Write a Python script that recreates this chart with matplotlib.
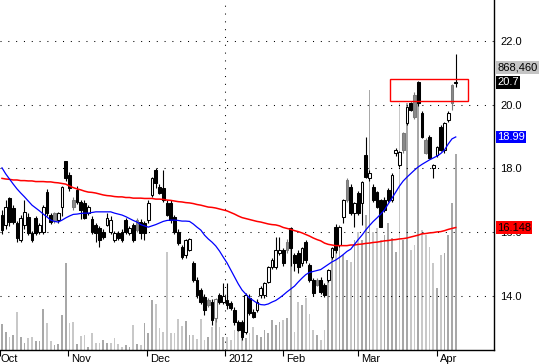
import matplotlib
matplotlib.use("Agg")
import matplotlib.pyplot as plt
import numpy as np
from matplotlib.patches import Rectangle
from matplotlib.transforms import blended_transform_factory, ScaledTranslation

plt.rcParams['font.family'] = ['Liberation Sans', 'DejaVu Sans']

# ---------------- data ----------------
opens = [16.54, 16.23, 17.07, 16.76, 16.29, 15.76, 16.23, 16.48, 15.98, 16.45,
         16.01, 16.01, 17.26, 16.54, 16.60, 16.38, 16.79, 18.24, 17.80, 17.01,
         17.33, 16.95, 16.92, 16.60, 16.42, 16.23, 16.13, 16.00, 16.23, 16.01,
         15.76, 15.98, 16.01, 16.38, 15.98, 16.23, 16.38, 16.32, 16.29, 16.38,
         17.17, 17.95, 17.42, 17.39, 16.92, 16.92, 16.48, 16.01, 15.54, 15.28,
         15.44, 15.04, 14.50, 14.19, 13.97, 13.87, 13.81, 13.30, 14.03, 13.81,
         13.87, 13.78, 13.56, 13.18, 13.18, 12.87, 13.94, 13.50, 13.56, 14.03,
         14.03, 14.44, 14.91, 14.91, 15.35, 15.44, 15.69, 16.13, 15.29, 15.35,
         15.04, 15.69, 14.97, 14.50, 14.50, 14.50, 14.35, 14.50, 15.22, 16.16,
         15.60, 16.48, 17.64, 17.42, 16.60, 17.23, 16.92, 18.42, 17.70, 17.42,
         17.26, 17.01, 17.01, 17.33, 17.01, 18.49, 18.11, 19.11, 19.43, 20.05,
         20.30, 20.71, 19.74, 18.89, 18.99, 18.00, 18.42, 19.30, 18.58, 19.52,
         20.62, 20.68]
highs = [16.70, 17.00, 17.10, 16.85, 16.35, 16.55, 17.01, 16.60, 16.05, 16.50,
         16.30, 16.85, 17.35, 16.60, 16.65, 16.65, 17.45, 18.25, 17.90, 17.10,
         17.45, 17.00, 17.00, 16.85, 16.50, 16.30, 16.20, 16.10, 16.60, 16.50,
         16.05, 16.05, 16.10, 16.45, 16.20, 16.30, 16.45, 16.40, 16.35, 17.00,
         17.72, 18.00, 17.50, 17.95, 17.00, 17.00, 16.55, 16.10, 15.60, 15.80,
         15.82, 15.10, 14.60, 14.25, 14.05, 13.95, 13.90, 13.95, 14.10, 14.40,
         14.40, 13.85, 13.65, 13.25, 13.25, 14.10, 14.05, 13.60, 13.90, 14.30,
         14.45, 14.95, 15.20, 15.86, 15.86, 15.50, 15.80, 16.15, 15.35, 15.45,
         15.55, 15.75, 15.05, 14.55, 14.55, 14.60, 14.40, 14.85, 15.55, 16.25,
         16.20, 17.05, 17.70, 17.50, 16.95, 17.30, 17.60, 18.99, 17.95, 17.50,
         17.30, 17.05, 17.10, 17.40, 17.85, 18.65, 18.55, 19.15, 19.95, 20.10,
         20.40, 20.75, 19.80, 18.95, 19.05, 18.15, 18.70, 19.35, 19.45, 19.80,
         20.65, 21.58]
lows = [15.95, 16.10, 16.20, 16.25, 15.69, 15.70, 16.10, 15.90, 15.70, 15.90,
        15.95, 15.95, 16.50, 16.25, 16.30, 16.30, 16.50, 17.60, 17.30, 16.70,
        16.90, 16.40, 16.40, 16.55, 15.95, 15.70, 15.54, 15.80, 16.20, 15.95,
        15.70, 15.75, 15.70, 15.95, 15.90, 15.70, 16.00, 15.80, 15.76, 16.30,
        17.10, 17.40, 17.20, 16.95, 16.50, 16.30, 15.95, 15.60, 15.15, 15.20,
        15.40, 14.45, 13.95, 13.75, 13.40, 13.65, 13.10, 13.20, 13.75, 13.75,
        13.60, 13.55, 13.10, 12.90, 12.62, 12.80, 13.40, 13.30, 13.50, 13.95,
        13.95, 14.40, 14.85, 14.85, 15.30, 14.95, 15.35, 14.95, 14.80, 14.72,
        14.95, 15.05, 14.45, 14.00, 14.30, 14.05, 13.97, 14.45, 15.15, 15.35,
        15.55, 16.30, 16.95, 16.55, 16.17, 16.55, 16.23, 17.70, 17.60, 16.95,
        16.75, 16.15, 16.65, 16.95, 16.95, 18.40, 18.05, 18.50, 19.35, 19.80,
        19.55, 19.95, 18.95, 18.45, 18.30, 17.70, 18.35, 18.55, 18.50, 19.45,
        19.84, 20.55]
closes = [16.07, 16.79, 16.32, 16.32, 15.82, 16.45, 16.64, 15.98, 15.76, 15.98,
          16.23, 16.79, 16.60, 16.32, 16.35, 16.60, 17.42, 17.70, 17.39, 16.79,
          16.95, 16.70, 16.45, 16.79, 16.01, 15.98, 15.76, 15.85, 16.45, 16.38,
          15.98, 15.82, 15.76, 16.01, 16.13, 15.76, 16.07, 15.98, 15.98, 16.92,
          17.70, 17.55, 17.23, 17.01, 16.54, 16.38, 16.01, 15.66, 15.22, 15.76,
          15.79, 14.50, 14.03, 13.81, 13.56, 13.72, 13.25, 13.90, 13.81, 14.00,
          13.72, 13.62, 13.18, 12.93, 12.71, 14.03, 13.47, 13.34, 13.81, 14.25,
          14.41, 14.91, 15.13, 15.44, 15.44, 15.03, 15.44, 15.50, 15.04, 14.91,
          15.50, 15.13, 14.50, 14.09, 14.35, 14.13, 14.03, 14.82, 15.50, 15.44,
          16.16, 17.01, 17.01, 16.60, 16.92, 16.60, 17.58, 17.73, 17.86, 17.01,
          16.79, 16.17, 16.70, 17.01, 17.80, 18.58, 18.52, 18.58, 19.93, 19.84,
          19.60, 20.05, 18.99, 18.49, 18.33, 18.11, 18.67, 18.58, 19.43, 19.74,
          20.05, 20.70]
volumes = [115000, 80000, 58000, 66000, 168000, 58000, 31000, 53000, 58000, 40000,
           40000, 182000, 120000, 40000, 22000, 27000, 155000, 385000, 120000, 124000,
           27000, 62000, 66000, 13000, 75000, 31000, 31000, 44000, 31000, 31000,
           53000, 27000, 13000, 22000, 13000, 111000, 27000, 22000, 120000, 75000,
           222000, 204000, 97000, 80000, 434000, 75000, 75000, 137000, 106000, 128000,
           66000, 66000, 49000, 137000, 44000, 58000, 102000, 222000, 102000, 58000,
           58000, 44000, 89000, 102000, 80000, 53000, 75000, 102000, 66000, 58000,
           89000, 75000, 133000, 111000, 124000, 133000, 142000, 532000, 80000, 213000,
           199000, 230000, 160000, 89000, 66000, 44000, 89000, 354000, 421000, 443000,
           554000, 421000, 399000, 390000, 487000, 523000, 487000, 598000, 1152000, 523000,
           541000, 487000, 510000, 563000, 496000, 434000, 1094000, 487000, 1094000, 443000,
           465000, 1108000, 532000, 510000, 456000, 385000, 275000, 421000, 430000, 510000,
           651000, 868460]
ma_fast = [18.02, 17.83, 17.67, 17.51, 17.36, 17.23, 17.11, 16.98, 16.85, 16.76,
           16.67, 16.57, 16.48, 16.38, 16.34, 16.32, 16.38, 16.45, 16.51, 16.56,
           16.57, 16.59, 16.60, 16.60, 16.62, 16.64, 16.64, 16.64, 16.64, 16.64,
           16.60, 16.57, 16.54, 16.49, 16.43, 16.37, 16.32, 16.24, 16.20, 16.16,
           16.20, 16.24, 16.29, 16.34, 16.37, 16.38, 16.38, 16.37, 16.35, 16.35,
           16.34, 16.26, 16.16, 16.07, 15.91, 15.79, 15.69, 15.57, 15.41, 15.22,
           15.04, 14.82, 14.60, 14.38, 14.19, 14.06, 13.94, 13.86, 13.78, 13.73,
           13.72, 13.75, 13.81, 13.86, 13.94, 14.03, 14.13, 14.22, 14.31, 14.44,
           14.56, 14.67, 14.74, 14.77, 14.80, 14.83, 14.91, 14.99, 15.07, 15.13,
           15.21, 15.30, 15.40, 15.47, 15.62, 15.77, 15.91, 16.07, 16.21, 16.34,
           16.45, 16.57, 16.70, 16.89, 17.07, 17.26, 17.45, 17.61, 17.73, 17.84,
           17.95, 18.05, 18.13, 18.20, 18.27, 18.33, 18.39, 18.47, 18.58, 18.77,
           18.93, 18.99]
ma_slow = [17.69, 17.67, 17.66, 17.64, 17.64, 17.62, 17.62, 17.61, 17.61, 17.59,
           17.59, 17.59, 17.58, 17.58, 17.56, 17.55, 17.53, 17.51, 17.45, 17.40,
           17.36, 17.33, 17.29, 17.26, 17.25, 17.23, 17.20, 17.17, 17.15, 17.14,
           17.12, 17.11, 17.11, 17.09, 17.09, 17.07, 17.07, 17.07, 17.06, 17.06,
           17.06, 17.04, 17.04, 17.03, 17.01, 17.00, 16.98, 16.96, 16.95, 16.93,
           16.92, 16.90, 16.87, 16.85, 16.82, 16.79, 16.78, 16.76, 16.73, 16.70,
           16.67, 16.62, 16.57, 16.51, 16.46, 16.43, 16.40, 16.37, 16.34, 16.32,
           16.29, 16.26, 16.24, 16.23, 16.20, 16.15, 16.12, 16.09, 16.05, 16.02,
           15.98, 15.93, 15.88, 15.82, 15.77, 15.73, 15.66, 15.62, 15.60, 15.58,
           15.58, 15.58, 15.58, 15.60, 15.60, 15.62, 15.63, 15.65, 15.66, 15.68,
           15.69, 15.71, 15.73, 15.74, 15.76, 15.77, 15.79, 15.80, 15.82, 15.85,
           15.88, 15.91, 15.95, 15.96, 15.98, 15.99, 16.01, 16.02, 16.05, 16.09,
           16.12, 16.148]
gray_bars = [14, 19, 36, 55, 57, 76, 84, 92, 107, 110, 113, 120]

month_labels = ['Oct', 'Nov', 'Dec', '2012', 'Feb', 'Mar', 'Apr']
month_pos = [-0.53, 17.6, 38.7, 59.6, 74.9, 94.9, 116.0]
year_boundary = 59.6
price_ticks = [14.0, 16.0, 18.0, 20.0, 22.0]
box_x = (103.5, 124.3)
box_y = (20.12, 20.81)
vol_tag_price = 21.17

# ---------------- figure ----------------
W, H, DPI = 550, 364, 100
fig = plt.figure(figsize=(W / DPI, H / DPI), dpi=DPI)
rect = [0, 14 / H, 494 / W, 350 / H]
axv = fig.add_axes(rect)
ax = fig.add_axes(rect, sharex=axv)
ax.patch.set_visible(False)

n = len(closes)
x = np.arange(n)
o = np.array(opens); c = np.array(closes)
hi = np.array(highs); lo = np.array(lows)

# volume
vol_cols = ['#a8a8a8' if (i == 0 or c[i] >= c[i - 1]) else '#c8c8c8' for i in range(n)]
axv.bar(x, volumes, width=0.42, color=vol_cols, linewidth=0)
axv.set_ylim(0, 1.55e6)
axv.axis('off')

# candles
edge = ['#7a7a7a' if i in gray_bars else 'black' for i in range(n)]
face = []
for i in range(n):
    if c[i] >= o[i]:
        face.append('white')
    else:
        face.append('#8a8a8a' if i in gray_bars else 'black')
ax.vlines(x, lo, hi, colors=edge, linewidth=0.8, zorder=3)
body_h = np.maximum(np.abs(c - o), 0.03)
ax.bar(x, body_h, bottom=np.minimum(o, c), width=0.72, color=face,
       edgecolor=edge, linewidth=0.75, zorder=4)

# moving averages
ax.plot(x, ma_slow, color='#ff0000', linewidth=1.1, zorder=5)
ax.plot(x, ma_fast, color='#0000ff', linewidth=0.9, zorder=5)

# red highlight box
ax.add_patch(Rectangle((box_x[0], box_y[0]), box_x[1] - box_x[0], box_y[1] - box_y[0],
                       fill=False, edgecolor='#ff0000', linewidth=1.0, zorder=6))

# axes limits
ax.set_xlim(-0.533, 131.2)
ax.set_ylim(12.306, 23.286)

# grid
dots = (0, (1, 6.5))
ax.set_yticks(price_ticks)
ax.yaxis.set_major_formatter('{x:.1f}')
ax.grid(axis='y', color='black', linewidth=0.75, linestyle=dots, zorder=1)
ax.axvline(year_boundary, color='black', linewidth=0.75, linestyle=dots, zorder=1)

# spines
for s in ['left', 'top']:
    ax.spines[s].set_visible(False)
ax.spines['right'].set_linewidth(1.0)
ax.spines['bottom'].set_linewidth(1.0)

ax.yaxis.tick_right()
ax.tick_params(axis='y', length=0, pad=4.5, labelsize=8, colors='black')

ax.set_xticks(month_pos)
ax.set_xticklabels(month_labels)
ax.tick_params(axis='x', length=4, width=0.8, pad=-1.2, labelsize=8, direction='out')
for k, lab in enumerate(ax.get_xticklabels()):
    lab.set_ha('left')
    dx = 0.5 if k == 0 else 3.0
    lab.set_transform(lab.get_transform() + ScaledTranslation(dx / DPI, 0, fig.dpi_scale_trans))

# right-side value tags
trans = blended_transform_factory(ax.transAxes, ax.transData) + \
    ScaledTranslation(3 / DPI, 0, fig.dpi_scale_trans)

def tag(y, s, fc, tc):
    ax.text(1.0, y, s, transform=trans, ha='left', va='center', fontsize=8, color=tc,
            bbox=dict(boxstyle='square,pad=0.12', fc=fc, ec='none'),
            clip_on=False, zorder=20)

tag(vol_tag_price, f"{volumes[-1]:,}", '#c4c4c4', 'black')
tag(closes[-1], f"{closes[-1]:.1f}", 'black', 'white')
tag(ma_fast[-1], f"{ma_fast[-1]:.2f}", '#0000ff', 'white')
tag(ma_slow[-1], f"{ma_slow[-1]:.3f}", '#ff0000', 'black')

fig.savefig('out.png', dpi=DPI)
